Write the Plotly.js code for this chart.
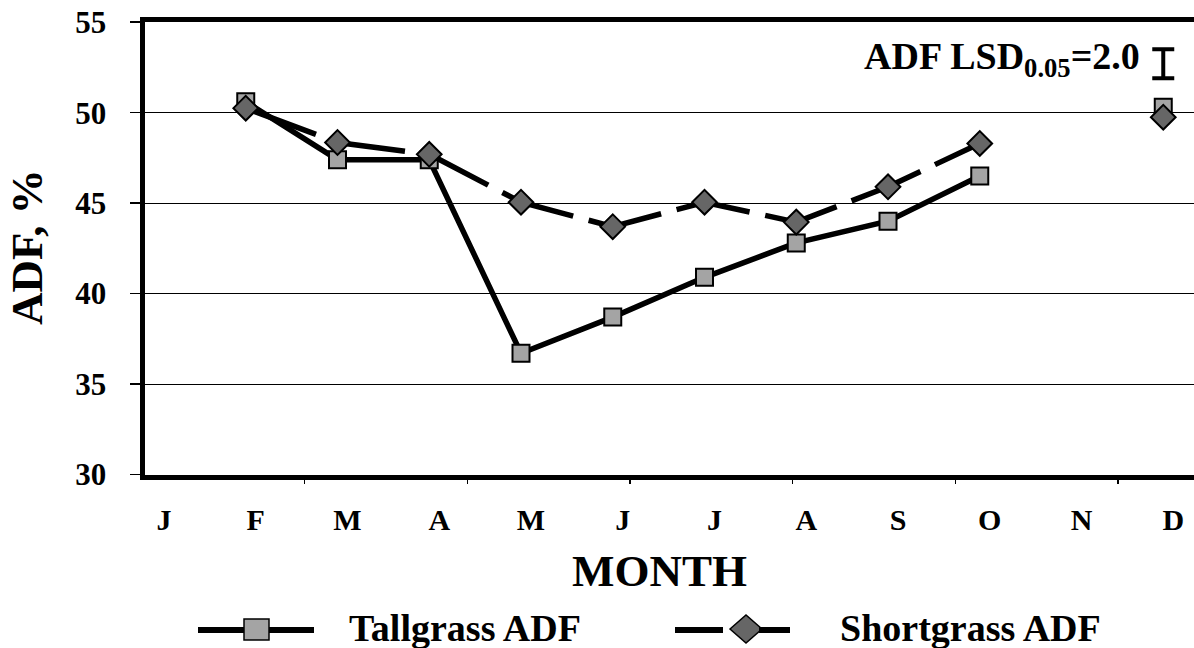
<!DOCTYPE html>
<html>
<head>
<meta charset="utf-8">
<script src="https://cdn.plot.ly/plotly-3.0.1.min.js"></script>
<style>
  html, body { margin: 0; padding: 0; background: #fff; }
  #chart { width: 1194px; height: 648px; }
</style>
</head>
<body>
<div id="chart"></div>
<script>
// Monthly ADF values (Jan..Dec, gaps where no sample)
const monthLabels = ['J', 'F', 'M', 'A', 'M', 'J', 'J', 'A', 'S', 'O', 'N', 'D'];
const monthIndex = [1, 2, 3, 4, 5, 6, 7, 8, 9, 10, 11, 12];
const tallgrassADF = [null, 50.6, 47.4, 47.4, 36.7, 38.7, 40.9, 42.8, 44.0, 46.5, null, 50.3];
const shortgrassADF = [null, 50.25, 48.35, 47.7, 45.05, 43.7, 45.05, 43.95, 45.9, 48.3, null, 49.75];

// LSD bar drawn in the upper right corner
const lsdX = [12];
const lsdY = [52.7];
const lsdHalf = [0.8];

const W = 1194, H = 648;
const px = (x) => x / W;
const py = (y) => 1 - y / H;
const serif = 'Liberation Serif, Times New Roman, serif';

const traceTall = {
    type: 'scatter',
    mode: 'lines+markers',
    name: 'Tallgrass ADF',
    x: monthIndex,
    y: tallgrassADF,
    connectgaps: false,
    line: { color: '#000', width: 5.5 },
    marker: { symbol: 'square', size: 17, color: '#a4a4a4', line: { color: '#000', width: 2 } },
    showlegend: false
};

const traceShort = {
    type: 'scatter',
    mode: 'lines+markers',
    name: 'Shortgrass ADF',
    x: monthIndex,
    y: shortgrassADF,
    connectgaps: false,
    line: { color: '#000', width: 5.5, dash: '75px,16px' },
    marker: { symbol: 'diamond', size: 19, color: '#666', line: { color: '#000', width: 2 } },
    showlegend: false
};

// LSD bar lives on the overlay axis that carries the odd tick marks
const traceLSD = {
    type: 'scatter',
    mode: 'markers',
    x: lsdX,
    y: lsdY,
    xaxis: 'x2',
    marker: { size: 1, color: 'rgba(0,0,0,0)' },
    error_y: { type: 'data', array: lsdHalf, visible: true, color: '#000', thickness: 4, width: 11 },
    showlegend: false,
    hoverinfo: 'skip'
};

const xRange = [0.8965, 12.335];

const legendShapes = [
    { type: 'line', xref: 'paper', yref: 'paper', x0: px(198), x1: px(314), y0: py(630), y1: py(630), line: { color: '#000', width: 6 } },
    { type: 'rect', xref: 'paper', yref: 'paper', x0: px(244), x1: px(269), y0: py(619), y1: py(640), fillcolor: '#a4a4a4', line: { color: '#000', width: 1.5 } },
    { type: 'path', xref: 'paper', yref: 'paper',
      path: `M${px(730)},${py(629)} L${px(746)},${py(615)} L${px(762)},${py(629)} L${px(746)},${py(643)} Z`,
      fillcolor: '#666', line: { color: '#000', width: 1.5 } },
    { type: 'line', xref: 'paper', yref: 'paper', x0: px(675), x1: px(723), y0: py(630), y1: py(630), line: { color: '#000', width: 6 } },
    { type: 'line', xref: 'paper', yref: 'paper', x0: px(759), x1: px(790), y0: py(630), y1: py(630), line: { color: '#000', width: 6 } }
];

const layout = {
    width: W,
    height: H,
    margin: { l: 0, r: 0, t: 0, b: 0 },
    paper_bgcolor: '#fff',
    plot_bgcolor: '#fff',
    font: { family: serif, color: '#000', weight: 'bold' },
    showlegend: false,
    xaxis: {
        domain: [px(144.5), 1],
        range: xRange,
        tickmode: 'array',
        tickvals: monthIndex,
        ticktext: monthLabels,
        ticks: '',
        ticklabelshift: 10,
        ticklabelstandoff: 14,
        tickfont: { size: 30, family: serif, weight: 'bold' },
        showgrid: false,
        zeroline: false,
        showline: true,
        mirror: true,
        linecolor: '#000',
        linewidth: 5
    },
    xaxis2: {
        overlaying: 'x',
        anchor: 'y',
        side: 'bottom',
        range: xRange,
        tickmode: 'linear',
        tick0: 0.8692,
        dtick: 1.773,
        ticks: 'outside',
        ticklen: 8,
        tickwidth: 1.5,
        tickcolor: '#000',
        showticklabels: false,
        showgrid: false,
        zeroline: false,
        showline: false
    },
    yaxis: {
        domain: [py(474.5), py(22.2)],
        range: [30, 55],
        tickvals: [30, 35, 40, 45, 50, 55],
        ticks: 'outside',
        ticklen: 10,
        tickwidth: 1.5,
        tickcolor: '#000',
        ticklabelstandoff: 17,
        tickfont: { size: 31, family: serif, weight: 'bold' },
        showgrid: true,
        gridcolor: '#000',
        gridwidth: 1,
        zeroline: false,
        showline: true,
        linecolor: '#000',
        linewidth: 5
    },
    shapes: legendShapes,
    annotations: [
        { xref: 'paper', yref: 'paper', x: px(27), y: py(247), xanchor: 'center', yanchor: 'middle',
          textangle: -90, text: 'ADF, %', showarrow: false, font: { size: 45, family: serif, weight: 'bold' } },
        { xref: 'paper', yref: 'paper', x: px(660), y: py(571), xanchor: 'center', yanchor: 'middle',
          text: 'MONTH', showarrow: false, font: { size: 45, family: serif, weight: 'bold' } },
        { xref: 'paper', yref: 'paper', x: px(1142), y: py(59), xanchor: 'right', yanchor: 'middle',
          text: 'ADF LSD<sub>0.05</sub>=2.0', showarrow: false,
          font: { size: 38, family: serif, weight: 'bold' } },
        { xref: 'paper', yref: 'paper', x: px(347), y: py(628), xanchor: 'left', yanchor: 'middle',
          text: 'Tallgrass ADF', showarrow: false, font: { size: 38, family: serif, weight: 'bold' } },
        { xref: 'paper', yref: 'paper', x: px(838), y: py(628), xanchor: 'left', yanchor: 'middle',
          text: 'Shortgrass ADF', showarrow: false, font: { size: 38, family: serif, weight: 'bold' } }
    ]
};

Plotly.newPlot('chart', [traceTall, traceShort, traceLSD], layout, { displayModeBar: false, staticPlot: true });
</script>
</body>
</html>
